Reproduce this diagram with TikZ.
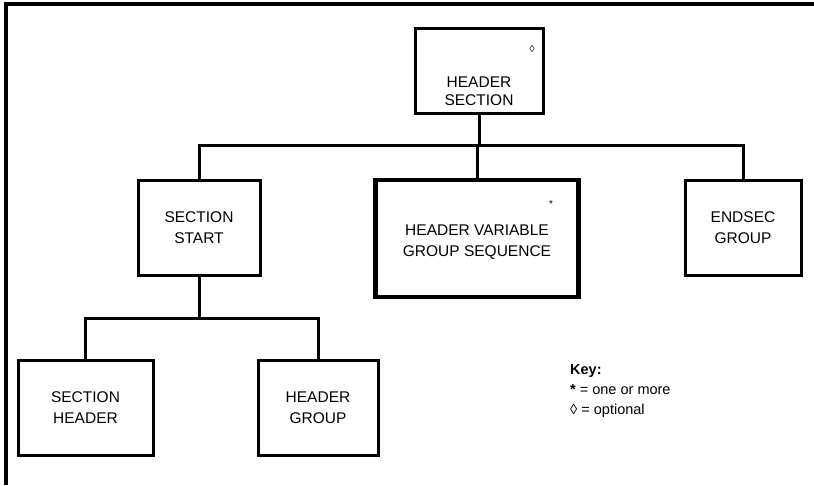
\documentclass[tikz,border=0pt]{standalone}
\usepackage{fontspec}
\setmainfont{Liberation Sans}
\usetikzlibrary{calc}

\begin{document}
\begin{tikzpicture}[x=1pt, y=-1pt,
  box/.style={rectangle, draw, line width=3pt, align=center, inner sep=0pt, font=\fontsize{15.5}{21}\selectfont},
  link/.style={line width=3pt},
  markchar/.style={inner sep=0pt, font=\fontsize{10}{10}\selectfont}]
\useasboundingbox (0,0) rectangle (814,485);
\draw [line width=4pt] (814,4) -- (6,4) -- (6,485);
% top level
\node (hsec) [box, minimum width=128pt, minimum height=85pt, label={[align=center, font=\fontsize{15.5}{18}\selectfont, yshift=-21pt]center:HEADER\\SECTION}] at (479,70.5) {};
\node (hsecopt) [markchar] at (532,49) {◊};
% second level
\node (sstart) [box, minimum width=122pt, minimum height=95pt] at (199,227.5) {SECTION\\START};
\node (hvgs) [box, line width=4.5pt, minimum width=203pt, minimum height=117pt, label={[align=center, font=\fontsize{15.5}{21}\selectfont, yshift=-4pt]center:HEADER VARIABLE\\GROUP SEQUENCE}] at (477,238.5) {};
\node (hvgsmany) [markchar] at (551,204) {*};
\node (endsec) [box, minimum width=116pt, minimum height=95pt] at (743,227.5) {ENDSEC\\GROUP};
% third level
\node (shead) [box, minimum width=135pt, minimum height=95pt] at (85.5,407.5) {SECTION\\HEADER};
\node (hgroup) [box, minimum width=120pt, minimum height=95pt] at (318,407.5) {HEADER\\GROUP};
% key
\node (key) [anchor=north west, align=left, inner sep=0pt, font=\fontsize{14.5}{20}\selectfont] at (570,364) {\textbf{Key:}\\\textbf{*} = one or more\\◊ = optional};
% connectors
\coordinate (bar1) at (0,145);
\coordinate (bar2) at (0,318);
\draw [link] (sstart.north) |- (bar1 -| endsec.north) -- (endsec.north);
\draw [link] (hsec.south) -- (hsec.south |- bar1);
\draw [link] (hvgs.north) -- (hvgs.north |- bar1);
\draw [link] (shead.north) |- (bar2 -| hgroup.north) -- (hgroup.north);
\draw [link] (sstart.south) -- (sstart.south |- bar2);
\end{tikzpicture}
\end{document}
